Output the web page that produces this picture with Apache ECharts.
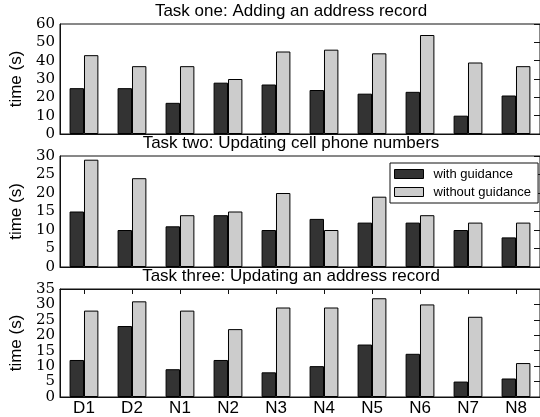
<!DOCTYPE html>
<html><head><meta charset="utf-8">
<script src="https://cdn.jsdelivr.net/npm/echarts@6/dist/echarts.min.js"></script>
<style>html,body{margin:0;padding:0;background:#fff}#c{width:540px;height:417px}</style>
</head><body><div id="c"></div>
<script>
const categories = ['D1','D2','N1','N2','N3','N4','N5','N6','N7','N8'];
const titles = ['Task one: Adding an address record','Task two: Updating cell phone numbers','Task three: Updating an address record'];
const seriesNames = ['with guidance','without guidance'];
const task1With = [25,25,17,28,27,24,22,23,10,21];
const task1Without = [43,37,37,30,45,46,44,54,39,37];
const task2With = [15,10,11,14,10,13,12,12,10,8];
const task2Without = [29,24,14,15,20,10,19,14,12,12];
const task3With = [12,23,9,12,8,10,17,14,5,6];
const task3Without = [28,31,28,22,29,29,32,30,26,11];
const yMax = [60,30,35];
const yInterval = [10,5,5];

const panels = [
  {top:24, height:110},
  {top:156, height:111},
  {top:289, height:110}
];
const data = [[task1With,task1Without],[task2With,task2Without],[task3With,task3Without]];
const colors = ['#333333','#cccccc'];
const serif = 'DejaVu Serif';
const sans = 'Liberation Sans';

const grid=[], xAxis=[], yAxis=[], series=[], title=[];
panels.forEach((p,i)=>{
  grid.push({left:57, right:-2, top:p.top, height:p.height, show:true, borderColor:'#111', borderWidth:1, backgroundColor:'transparent'});
  title.push({text:titles[i], left:291, textAlign:'center', top:p.top-21, padding:0,
    textStyle:{fontFamily:sans, fontSize:17, fontWeight:'normal', color:'#000'}});
  xAxis.push({type:'category', gridIndex:i, position:'bottom', data:categories, boundaryGap:true,
    axisLine:{show:true, lineStyle:{color:'#111', width:1}}, axisTick:{show:false},
    axisLabel:{show:i===2, fontFamily:sans, fontSize:17, color:'#000', margin:3}});
  yAxis.push({type:'value', gridIndex:i, min:0, max:yMax[i], interval:yInterval[i],
    name:'time (s)', nameLocation:'middle', nameRotate:90, nameGap:31,
    nameTextStyle:{fontFamily:sans, fontSize:17, color:'#000'},
    axisLine:{show:true, lineStyle:{color:'#111'}}, axisTick:{show:false}, splitLine:{show:false},
    axisLabel:{fontFamily:serif, fontSize:15, lineHeight:11, color:'#000', margin:5, showMinLabel:true, showMaxLabel:true, hideOverlap:false}});
  yAxis.push({type:'value', gridIndex:i, position:'right', min:0, max:yMax[i], interval:yInterval[i],
    axisLine:{show:true, lineStyle:{color:'#111'}}, axisTick:{show:true, inside:true, length:6, lineStyle:{color:'#111', width:1}},
    axisLabel:{show:false}, splitLine:{show:false}});
  data[i].forEach((d,k)=>{
    series.push({type:'bar', name:seriesNames[k], xAxisIndex:i, yAxisIndex:i*2, data:d,
      barWidth:'30%', barGap:'0%', itemStyle:{color:colors[k], borderColor:'#000', borderWidth:1}});
  });
});
xAxis.push({type:'category', gridIndex:2, position:'top', data:categories, boundaryGap:true,
  axisLine:{show:true, onZero:false, lineStyle:{color:'#111', width:1}}, axisTick:{show:true, inside:true, alignWithLabel:true, interval:0, length:5, lineStyle:{color:'#111', width:1}},
  axisLabel:{show:false, interval:0}});

const chart = echarts.init(document.getElementById('c'), null, {renderer:'canvas'});
chart.setOption({
  animation:false,
  title,
  grid, xAxis, yAxis, series,
  legend:{data:seriesNames, orient:'vertical', left:390, top:163, icon:'rect', itemWidth:29, itemHeight:9, itemGap:4,
    padding:[4,7,4,4], borderColor:'#111', borderWidth:1, backgroundColor:'#fff', borderRadius:0,
    selectedMode:false,
    textStyle:{fontFamily:sans, fontSize:13, color:'#000', lineHeight:14, padding:[0,0,0,5]},
    itemStyle:{borderColor:'#000', borderWidth:1}}
});
</script></body></html>
